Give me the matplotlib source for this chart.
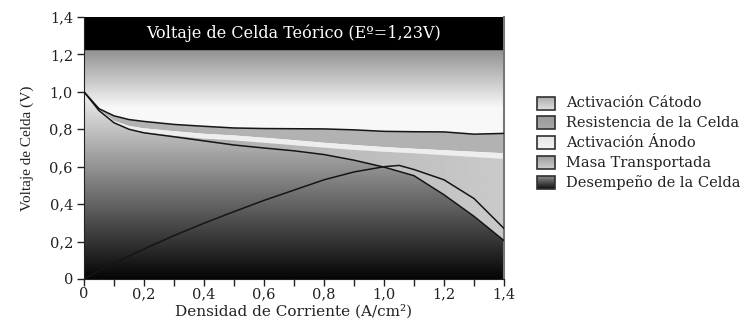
import numpy as np
import matplotlib
matplotlib.use('Agg')
import matplotlib.pyplot as plt
from matplotlib.patches import Rectangle

# datos
E0 = 1.23
current = [0.0, 0.05, 0.1, 0.15, 0.2, 0.3, 0.4, 0.5, 0.6, 0.7, 0.8, 0.9, 1.0, 1.1, 1.2, 1.3, 1.4]
v_cathode = [1.0, 0.91, 0.872, 0.852, 0.842, 0.826, 0.816, 0.807, 0.804, 0.803, 0.802, 0.797, 0.789, 0.787, 0.786, 0.774, 0.778]
v_anode_top = [1.0, 0.905, 0.845, 0.818, 0.805, 0.790, 0.776, 0.767, 0.755, 0.742, 0.728, 0.716, 0.705, 0.696, 0.688, 0.680, 0.672]
v_anode_bottom = [1.0, 0.902, 0.835, 0.800, 0.785, 0.765, 0.750, 0.741, 0.728, 0.715, 0.702, 0.690, 0.680, 0.672, 0.662, 0.652, 0.642]
v_cell = [1.0, 0.90, 0.835, 0.800, 0.781, 0.760, 0.738, 0.716, 0.700, 0.685, 0.665, 0.635, 0.598, 0.552, 0.450, 0.335, 0.205]

power_current = [0.0, 0.1, 0.2, 0.3, 0.4, 0.5, 0.6, 0.7, 0.8, 0.9, 1.0, 1.05, 1.1, 1.2, 1.3, 1.4]
power = [0.0, 0.085, 0.16, 0.232, 0.298, 0.36, 0.42, 0.475, 0.53, 0.572, 0.600, 0.607, 0.585, 0.53, 0.43, 0.27]

xticks = [0, 0.2, 0.4, 0.6, 0.8, 1.0, 1.2, 1.4]
xticklabels = ['0', '0,2', '0,4', '0,6', '0,8', '1,0', '1,2', '1,4']
yticks = [0, 0.2, 0.4, 0.6, 0.8, 1.0, 1.2, 1.4]
yticklabels = ['0', '0,2', '0,4', '0,6', '0,8', '1,0', '1,2', '1,4']

legend_labels = ['Activación Cátodo', 'Resistencia de la Celda', 'Activación Ánodo',
                 'Masa Transportada', 'Desempeño de la Celda']

plt.rcParams['font.family'] = 'DejaVu Serif'
TXT = '#222222'

fig = plt.figure(figsize=(7.52, 3.27), dpi=100)
ax = fig.add_axes([84/752, 1-279/327, 420/752, 262/327])


def gradient_fill(ax, x, lower, upper, img, extent):
    poly = ax.fill_between(x, lower, upper, facecolor='none', edgecolor='none')
    im = ax.imshow(img, extent=extent, origin='lower', aspect='auto', cmap='gray',
                   vmin=0, vmax=1, interpolation='bilinear', zorder=1)
    im.set_clip_path(poly.get_paths()[0], transform=ax.transData)


# degradados
ys = np.linspace(0, E0, 300)[:, None]
xs = np.linspace(0, 1.4, 300)[None, :]
top_img = np.clip(0.56 + (E0 - ys) * 1.3, 0, 0.97)
cell_img = np.clip(0.02 + 0.93 * ys, 0, 0.95)
mass_img = 0.64 + 0.15 * xs / 1.4

gradient_fill(ax, current, v_cathode, [E0] * len(current), top_img, [0, 1.4, 0, E0])
ax.fill_between(current, v_anode_top, v_cathode, facecolor='#b2b2b2', edgecolor='none', zorder=1)
ax.fill_between(current, v_anode_bottom, v_anode_top, facecolor='#eeeeee', edgecolor='none', zorder=1)
gradient_fill(ax, current, v_cell, v_anode_bottom, mass_img, [0, 1.4, 0, E0])
gradient_fill(ax, current, [0] * len(current), v_cell, cell_img, [0, 1.4, 0, E0])

ax.axhspan(E0, 1.4, color='black', zorder=2)
ax.text(0.7, 1.315, 'Voltaje de Celda Teórico (Eº=1,23V)', color='white',
        ha='center', va='center', fontsize=11.5, zorder=3)

ax.plot(current, v_cathode, color='#151515', lw=1.1, zorder=3)
ax.plot(current, v_cell, color='#151515', lw=1.1, zorder=3)
ax.plot(power_current, power, color='#151515', lw=1.1, zorder=3)

ax.set_xlim(0, 1.4)
ax.set_ylim(0, 1.4)
ax.set_xticks(xticks)
ax.set_xticklabels(xticklabels)
ax.set_xticks(np.arange(0.1, 1.4, 0.2), minor=True)
ax.set_yticks(yticks)
ax.set_yticklabels(yticklabels)
ax.tick_params(which='both', direction='out', length=5, width=1, colors=TXT, labelsize=10.5)
ax.tick_params(axis='x', which='both', pad=1)
ax.tick_params(axis='y', pad=3)

ax.spines['top'].set_visible(False)
ax.spines['right'].set_color('#777777')
ax.spines['right'].set_linewidth(1.5)
for s in ['left', 'bottom']:
    ax.spines[s].set_color(TXT)

ax.set_xlabel('Densidad de Corriente (A/cm²)', fontsize=11, color=TXT, labelpad=2)
ax.set_ylabel('Voltaje de Celda (V)', fontsize=11, color=TXT, family='Liberation Serif', labelpad=11)

# leyenda con muestras degradadas
swatches = [(0.66, 0.86), (0.60, 0.66), (0.90, 0.95), (0.62, 0.80), (0.55, 0.06)]
for i, (lab, (c_top, c_bot)) in enumerate(zip(legend_labels, swatches)):
    cy = 103 + i * 19.9
    sax = fig.add_axes([537/752, 1 - (cy + 6.5)/327, 18/752, 13/327])
    sax.imshow(np.linspace(c_top, c_bot, 50)[:, None], cmap='gray', vmin=0, vmax=1,
               aspect='auto', extent=[0, 1, 0, 1])
    sax.add_patch(Rectangle((0, 0), 1, 1, fill=False, edgecolor='#303030', lw=1.2,
                            transform=sax.transAxes, clip_on=False))
    sax.set_axis_off()
    fig.text(566/752, 1 - cy/327, lab, fontsize=10.5, color=TXT, va='center', ha='left')

fig.savefig('out.png', dpi=100)
